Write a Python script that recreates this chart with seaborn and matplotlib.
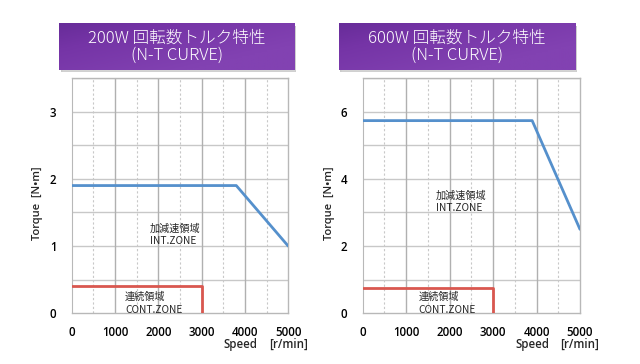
import numpy as np
import pandas as pd
import matplotlib.pyplot as plt
import seaborn as sns
from matplotlib.colors import LinearSegmentedColormap
from matplotlib.transforms import blended_transform_factory

sns.set_style('white')
plt.rcParams['font.family'] = ['Open Sans', 'Noto Sans CJK JP', 'DejaVu Sans']

# ---- data ----
titles = ['200W 回転数トルク特性\n(N-T CURVE)', '600W 回転数トルク特性\n(N-T CURVE)']

int_speed_200 = [0, 3800, 5000]
int_torque_200 = [1.9, 1.9, 1.0]
cont_speed_200 = [0, 3000, 3000]
cont_torque_200 = [0.4, 0.4, 0.0]

int_speed_600 = [0, 3900, 5000]
int_torque_600 = [5.73, 5.73, 2.5]
cont_speed_600 = [0, 3000, 3000]
cont_torque_600 = [0.75, 0.75, 0.0]

x_ticks = [0, 1000, 2000, 3000, 4000, 5000]
y_ticks_200 = [0, 1, 2, 3]
y_ticks_600 = [0, 2, 4, 6]

blue = '#5590cc'
red = '#d9574f'

fig = plt.figure(figsize=(6.4, 3.64), dpi=100)

panels = [
    dict(rect=[0.112, 0.139, 0.3384, 0.647], box=[0.0927, 0.8077, 0.368, 0.128],
         ix=int_speed_200, iy=int_torque_200, cx=cont_speed_200, cy=cont_torque_200,
         ymax=3.5, yticks=y_ticks_200, hstep=0.5, ylab_x=-0.132,
         int_pos=(1810, 1.34), cont_pos=(1230, 0.32)),
    dict(rect=[0.5667, 0.139, 0.3395, 0.647], box=[0.530, 0.8077, 0.369, 0.128],
         ix=int_speed_600, iy=int_torque_600, cx=cont_speed_600, cy=cont_torque_600,
         ymax=7, yticks=y_ticks_600, hstep=1, ylab_x=-0.127,
         int_pos=(1690, 3.66), cont_pos=(1280, 0.64)),
]

# purple gradient for the title boxes (darker toward the top-left)
gx, gy = np.meshgrid(np.linspace(0, 1, 256), np.linspace(0, 1, 32))
grad = np.clip(0.55 * gx + 0.45 * gy + 0.25, 0, 1)
purple = LinearSegmentedColormap.from_list('purple', ['#5a248c', '#7534a6', '#8242b2'])

for i, p in enumerate(panels):
    # title box with a soft shadow
    bx, by, bw, bh = p['box']
    sh = fig.add_axes([bx + 0.002, by - 0.006, bw, bh])
    sh.add_patch(plt.Rectangle((0, 0), 1, 1, color='#b8b8b8', alpha=0.6))
    sh.axis('off')
    tb = fig.add_axes([bx, by, bw, bh])
    tb.imshow(grad, cmap=purple, aspect='auto', extent=[0, 1, 0, 1], vmin=0, vmax=1)
    tb.axis('off')
    tb.text(0.5, 0.5, titles[i], ha='center', va='center', color='white',
            fontsize=12, linespacing=1.0, transform=tb.transAxes,
            family=['Noto Sans CJK JP', 'DejaVu Sans'], fontweight='light')

    ax = fig.add_axes(p['rect'])
    df_int = pd.DataFrame({'speed': p['ix'], 'torque': p['iy']})
    df_cont = pd.DataFrame({'speed': p['cx'], 'torque': p['cy']})
    sns.lineplot(data=df_int, x='speed', y='torque', ax=ax, color=blue,
                 linewidth=2, sort=False, estimator=None, zorder=5)
    sns.lineplot(data=df_cont, x='speed', y='torque', ax=ax, color=red,
                 linewidth=2, sort=False, estimator=None, zorder=5)

    ax.set_xlim(0, 5000)
    ax.set_ylim(0, p['ymax'])

    # grid
    for yv in np.arange(p['hstep'], p['ymax'] + 0.01, p['hstep']):
        ax.axhline(yv, color='#c8c8c8', lw=1, zorder=1)
    for xv in range(500, 5000, 500):
        if xv % 1000 == 0:
            ax.axvline(xv, color='#b0b0b0', lw=1, zorder=1)
        else:
            ax.axvline(xv, color='#c8c8c8', lw=0.8, ls=(0, (2, 2)), zorder=1)

    for side in ['top', 'right', 'bottom']:
        ax.spines[side].set_color('#b8b8b8')
        ax.spines[side].set_linewidth(1)
    ax.spines['left'].set_color('#b8b8b8')
    ax.spines['left'].set_linestyle((0, (2, 1)))
    ax.spines['left'].set_linewidth(0.8)

    ax.set_xticks(x_ticks)
    ax.set_yticks(p['yticks'])
    ax.set_xticklabels([str(t) for t in x_ticks], fontweight='semibold')
    ax.set_yticklabels([str(t) for t in p['yticks']], fontweight='semibold')
    ax.tick_params(axis='both', length=0, labelsize=8.3, colors='black')
    ax.tick_params(axis='x', pad=9)
    ax.tick_params(axis='y', pad=11)
    ax.set_xlabel('')
    ax.set_ylabel('Torque  [N•m]', fontsize=8, fontweight='semibold')
    ax.yaxis.set_label_coords(p['ylab_x'], 0.468)

    tr = blended_transform_factory(ax.transData, ax.transAxes)
    ax.text(3900, -0.13, 'Speed', transform=tr, ha='center', va='center',
            fontsize=8.3, fontweight='semibold')
    ax.text(5000, -0.13, '[r/min]', transform=tr, ha='center', va='center',
            fontsize=8.3, fontweight='semibold')

    ax.text(p['int_pos'][0], p['int_pos'][1], '加減速領域\nINT.ZONE', ha='left', va='top',
            fontsize=7.3, linespacing=1.35, family=['Noto Sans CJK JP', 'DejaVu Sans'])
    ax.text(p['cont_pos'][0], p['cont_pos'][1], '連続領域\nCONT.ZONE', ha='left', va='top',
            fontsize=7.3, linespacing=1.35, family=['Noto Sans CJK JP', 'DejaVu Sans'])

fig.savefig('out.png', dpi=100)
